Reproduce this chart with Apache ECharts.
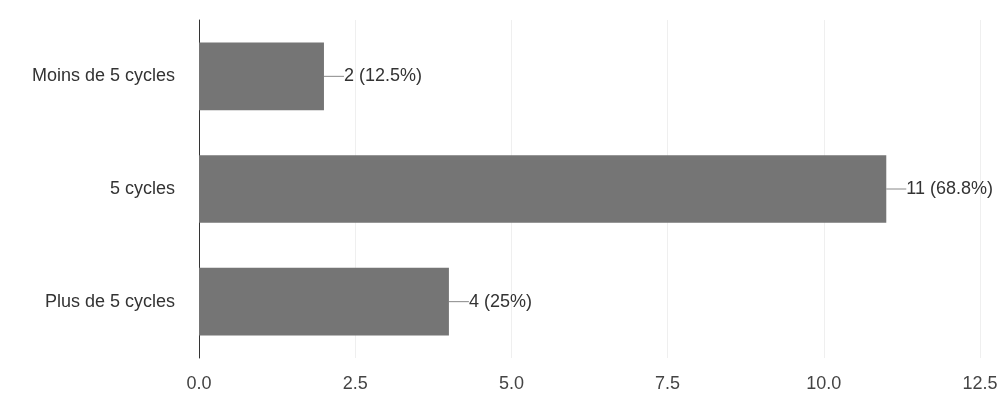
<!DOCTYPE html>
<html>
<head>
<meta charset="utf-8">
<script src="https://cdn.jsdelivr.net/npm/echarts@6/dist/echarts.min.js"></script>
<style>html,body{margin:0;padding:0;background:#fff;}#c{width:1007px;height:394px;}</style>
</head>
<body>
<div id="c"></div>
<script>
const categories = ["Moins de 5 cycles", "5 cycles", "Plus de 5 cycles"];
const counts = [2, 11, 4];
const percents = ["12.5%", "68.8%", "25%"];
const tickLabels = ["0.0", "2.5", "5.0", "7.5", "10.0", "12.5"];

const chart = echarts.init(document.getElementById('c'), null, {renderer: 'canvas'});
const font = 'Liberation Sans, Arial, sans-serif';
chart.setOption({
  animation: false,
  backgroundColor: '#fff',
  grid: {left: 199, right: 27, top: 20, bottom: 36, containLabel: false},
  xAxis: {
    type: 'value', min: 0, max: 12.5, interval: 2.5,
    axisLine: {show: false}, axisTick: {show: false},
    splitLine: {show: true, lineStyle: {color: '#efefef', width: 1}},
    axisLabel: {
      margin: 17, color: '#444', fontSize: 18, fontFamily: font,
      formatter: function (v) { return tickLabels[Math.round(v / 2.5)]; }
    }
  },
  yAxis: {
    type: 'category', data: categories, inverse: true,
    axisLine: {show: true, lineStyle: {color: '#333', width: 1}},
    axisTick: {show: false},
    axisLabel: {margin: 24, color: '#333', fontSize: 18, fontFamily: font}
  },
  series: [{
    type: 'bar',
    data: counts,
    barCategoryGap: '40%',
    itemStyle: {color: '#757575'},
    label: {
      show: true, position: 'right', distance: 0,
      color: '#333', fontSize: 18, fontFamily: font,
      formatter: function (p) { return counts[p.dataIndex] + ' (' + percents[p.dataIndex] + ')'; }
    },
    labelLayout: {dx: 20},
    labelLine: {show: true, length2: 0, lineStyle: {color: '#888', width: 1}}
  }]
});
</script>
</body>
</html>
